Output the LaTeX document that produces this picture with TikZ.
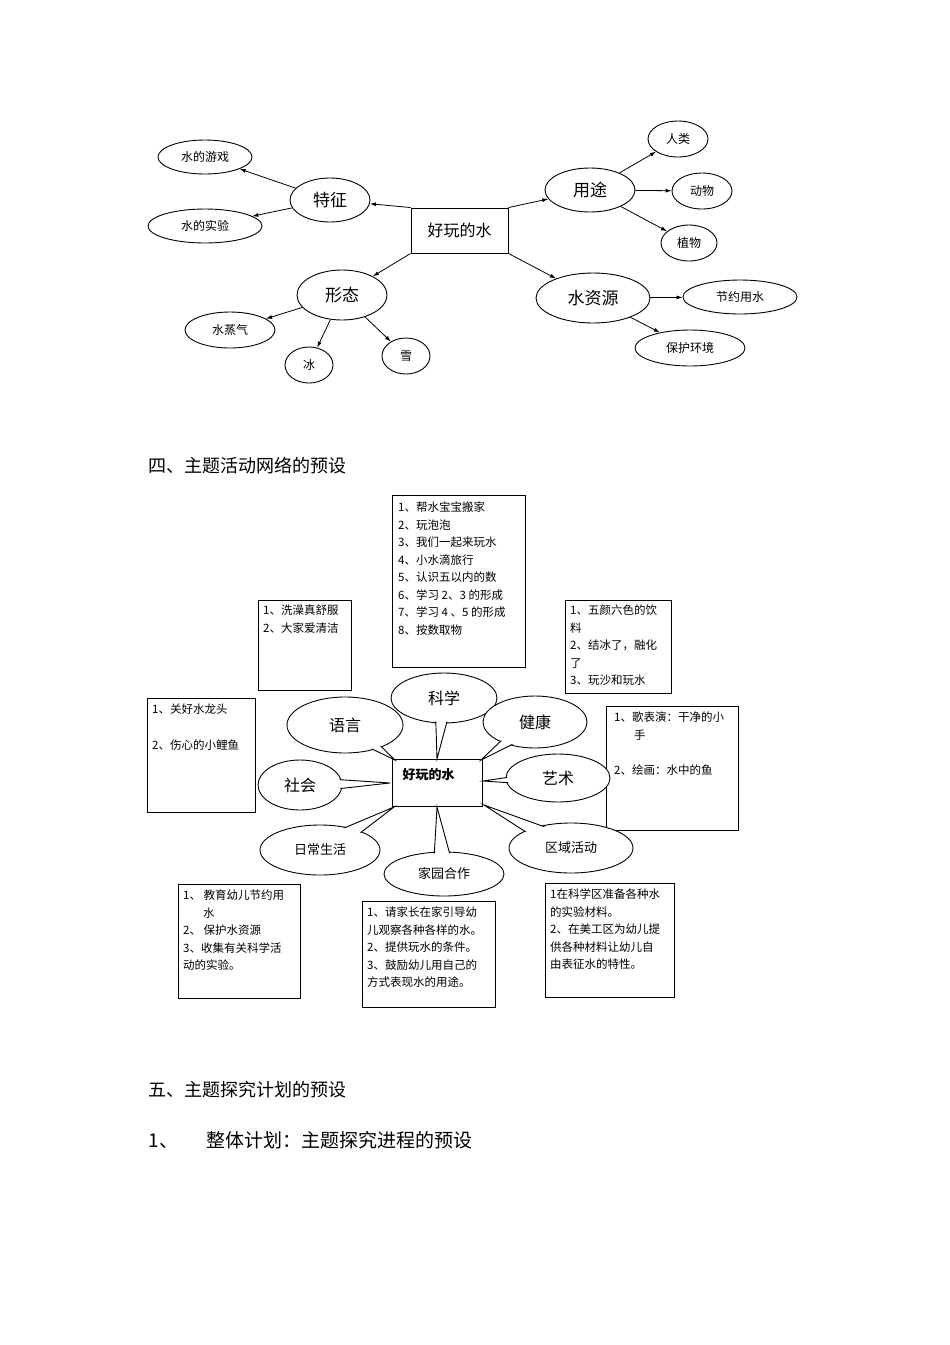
\documentclass[tikz,border=0pt]{standalone}
\usepackage{fontspec}
\setmainfont{Noto Sans CJK SC}
\usetikzlibrary{shapes.geometric,arrows.meta,calc}
\tikzset{
  el/.style={draw,ellipse,inner sep=0pt,line width=0.9pt,fill=white},
  arr/.style={-{Latex[length=6pt,width=4pt]},line width=0.8pt},
  bx/.style={draw,line width=0.9pt,anchor=north west,inner sep=0pt},
  bt/.style={anchor=north west,align=left,inner sep=0pt,font=\fontsize{11.5}{17.5}\selectfont},
  big/.style={font=\fontsize{17}{20}\selectfont},
  sm/.style={font=\fontsize{12}{14}\selectfont},
}
\newcommand{\mycallout}[9]{%
  \coordinate (#1c) at (#2,#3);
  \coordinate (#1tip) at (#6,#7);
  \node[el,minimum width=#4pt,minimum height=#5pt] (#1) at (#1c) {};
  \filldraw[fill=white,line width=0.9pt] ($(#1c)!#8pt!90:(#1tip)$) -- (#1tip) -- ($(#1c)!#8pt!-90:(#1tip)$) -- cycle;
  \fill[white] (#1c) ellipse [x radius=#4pt/2-1.2pt, y radius=#5pt/2-1.2pt];
  \node at (#1c) {#9};
}
\begin{document}
\begin{tikzpicture}[x=1pt,y=-1pt]
\useasboundingbox (0,0) rectangle (950,1345);
\fill[white] (0,0) rectangle (950,1345);
% ---------- top diagram
\node[draw,line width=0.9pt,minimum width=97,minimum height=45,font=\fontsize{16}{18}\selectfont] (c) at (459.5,230.5) {好玩的水};
\node[el,big,minimum width=80,minimum height=44] (tz) at (330,200) {特征};
\node[el,sm,minimum width=94,minimum height=34] (yx) at (205,157) {水的游戏};
\node[el,sm,minimum width=114,minimum height=34] (sy) at (205,226) {水的实验};
\node[el,big,minimum width=90,minimum height=50] (xt) at (342,295) {形态};
\node[el,sm,minimum width=90,minimum height=36] (zq) at (230,330) {水蒸气};
\node[el,sm,minimum width=48,minimum height=36] (bing) at (309,365) {冰};
\node[el,sm,minimum width=48,minimum height=36] (xue) at (406,356) {雪};
\node[el,big,minimum width=90,minimum height=44] (yt) at (590,190) {用途};
\node[el,sm,minimum width=60,minimum height=36] (rl) at (678,139) {人类};
\node[el,sm,minimum width=60,minimum height=36] (dw) at (702,191) {动物};
\node[el,sm,minimum width=56,minimum height=36] (zw) at (689,243) {植物};
\node[el,big,minimum width=114,minimum height=50] (szy) at (593,298) {水资源};
\node[el,sm,minimum width=114,minimum height=34] (jy) at (740,297) {节约用水};
\node[el,sm,minimum width=110,minimum height=36] (bh) at (690,348) {保护环境};
\draw[arr] (c.north west) -- (tz);
\draw[arr] (tz) -- (yx);
\draw[arr] (tz) -- (sy);
\draw[arr] (c.south west) -- (xt);
\draw[arr] (xt) -- (zq);
\draw[arr] (xt) -- (bing);
\draw[arr] (xt) -- (xue);
\draw[arr] (c.north east) -- (yt);
\draw[arr] (yt) -- (rl);
\draw[arr] (yt) -- (dw);
\draw[arr] (yt) -- (zw);
\draw[arr] (c.south east) -- (szy);
\draw[arr] (szy) -- (jy);
\draw[arr] (szy) -- (bh);
% ---------- headings
\node[anchor=west,font=\fontsize{18}{20}\selectfont] (h4) at (145,466) {四、主题活动网络的预设};
\node[anchor=west,font=\fontsize{18}{20}\selectfont] (h5) at (145,1090) {五、主题探究计划的预设};
\node[anchor=west,font=\fontsize{19}{22}\selectfont] (h51) at (145,1140) {1、\hspace{28pt}整体计划：主题探究进程的预设};
% ---------- middle diagram boxes
\node[bx,minimum width=133,minimum height=172] (kx) at (392,495) {};
\node[bt] at (398,502) {1、帮水宝宝搬家\\2、玩泡泡\\3、我们一起来玩水\\4、小水滴旅行\\5、认识五以内的数\\6、学习 2、3 的形成\\7、学习 4 、5 的形成\\8、按数取物};
\node[bx,minimum width=93,minimum height=90] (xz) at (258,600) {};
\node[bt] at (263,605) {1、洗澡真舒服\\2、大家爱清洁};
\node[bx,minimum width=106,minimum height=93] (wy) at (565,600) {};
\node[bt] at (570,605) {1、五颜六色的饮\\料\\2、结冰了，融化\\了\\3、玩沙和玩水};
\node[bx,minimum width=108,minimum height=114] (gh) at (147,698) {};
\node[bt] at (152,704) {1、关好水龙头\\[18pt]2、伤心的小鲤鱼};
\node[bx,minimum width=132,minimum height=124] (gb) at (606,706) {};
\node[bt] at (614,712) {1、歌表演：干净的小\\\hspace{20pt}手\\[18pt]2、绘画：水中的鱼};
\node[bx,minimum width=122,minimum height=114] (jy1) at (178,884) {};
\node[bt] at (183,890) {1、 教育幼儿节约用\\\hspace{20pt}水\\2、 保护水资源\\3、收集有关科学活\\动的实验。};
\node[bx,minimum width=133,minimum height=106] (qj) at (362,901) {};
\node[bt] at (367,907) {1、请家长在家引导幼\\儿观察各种各样的水。\\2、提供玩水的条件。\\3、鼓励幼儿用自己的\\方式表现水的用途。};
\node[bx,minimum width=129,minimum height=114] (kxq) at (545,883) {};
\node[bt] at (550,889) {1在科学区准备各种水\\的实验材料。\\2、在美工区为幼儿提\\供各种材料让幼儿自\\由表征水的特性。};
% ---------- centre and callouts
\node[draw,line width=0.9pt,minimum width=90,minimum height=47,fill=white] (mc) at (437,782.5) {};
\node[anchor=north west,font=\bfseries\fontsize{13}{15}\selectfont] at (399,765) {好玩的水};
\mycallout{kxa}{444}{698}{106}{50}{437}{759}{9}{\fontsize{16}{18}\selectfont 科学}
\mycallout{yy}{345}{725}{116}{56}{395}{760}{10}{\fontsize{16}{18}\selectfont 语言}
\mycallout{jk}{535}{722}{104}{52}{481}{760}{10}{\fontsize{16}{18}\selectfont 健康}
\mycallout{sh}{300}{785}{84}{50}{390}{783}{8}{\fontsize{16}{18}\selectfont 社会}
\mycallout{ys}{558}{778}{104}{48}{483}{781}{8}{\fontsize{16}{18}\selectfont 艺术}
\mycallout{rc}{320}{850}{120}{50}{394}{807}{11}{\fontsize{13}{15}\selectfont 日常生活}
\mycallout{jyhz}{444}{874}{120}{44}{437}{807}{11}{\fontsize{13}{15}\selectfont 家园合作}
\mycallout{qy}{571}{848}{124}{50}{484}{805}{11}{\fontsize{13}{15}\selectfont 区域活动}
\end{tikzpicture}
\end{document}
